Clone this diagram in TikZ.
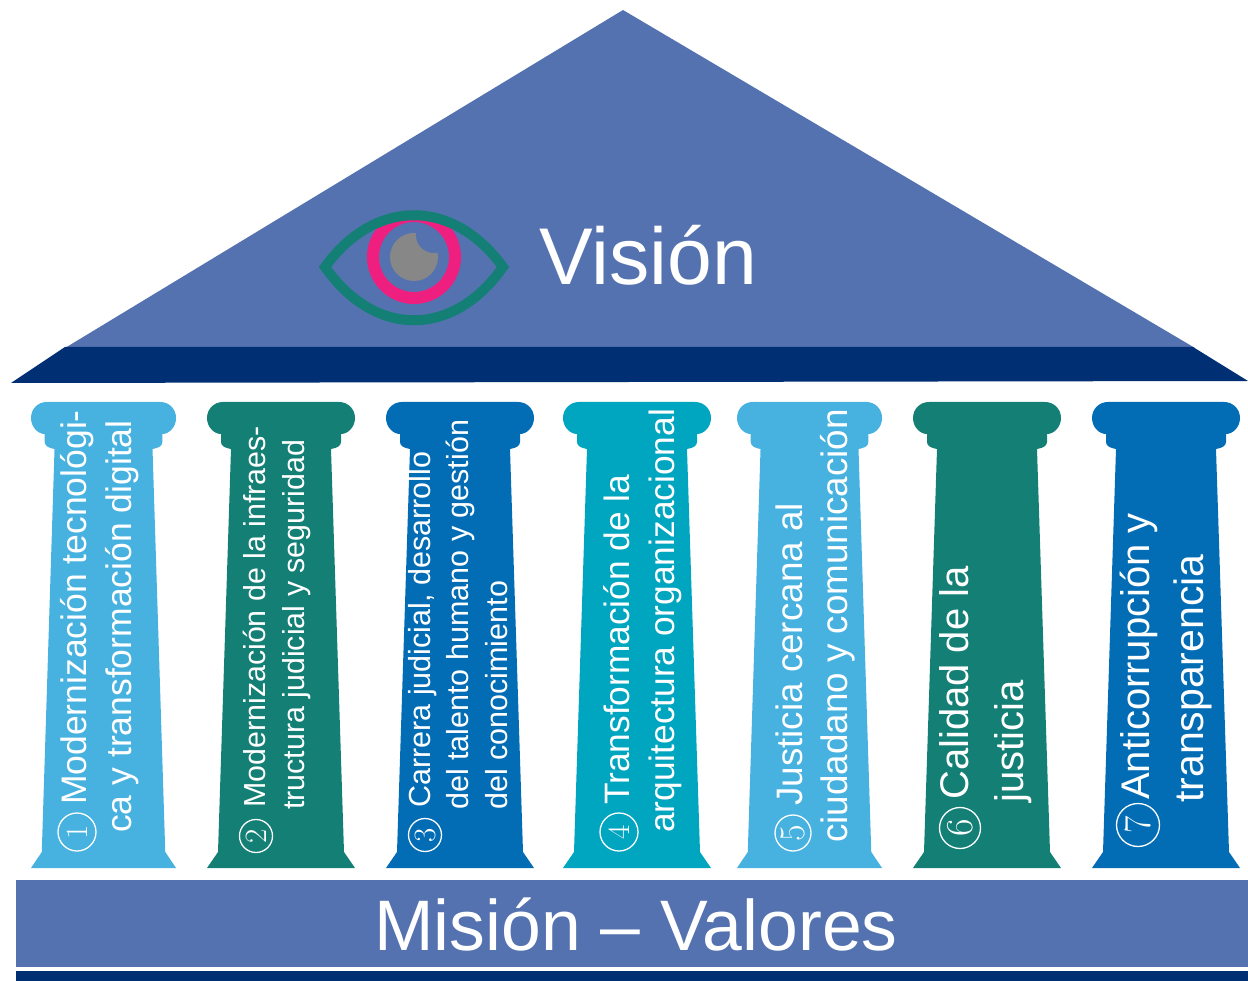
\documentclass[tikz,border=0pt]{standalone}
\usepackage{fontspec}
\setmainfont{Liberation Sans}
\definecolor{roofblue}{HTML}{5572B0}
\definecolor{darkblue}{HTML}{003073}
\definecolor{skyblue}{HTML}{47B1DF}
\definecolor{deepgreen}{HTML}{137F75}
\definecolor{midblue}{HTML}{026DB5}
\definecolor{cyanblue}{HTML}{00A5BF}
\definecolor{eyepink}{HTML}{EF1F80}
\definecolor{eyegray}{HTML}{878787}
\tikzset{
	pillar/.pic={
		\fill[pic actions] (16,0) -- (132,0) .. controls (141,0) and (148,7) .. (148,16) .. controls (148,25) and (141,32) .. (134,32) -- (134,40) .. controls (134,44) and (130,46) .. (124,47) -- (137,450) -- (148,466) -- (0,466) -- (11,450) -- (24,47) .. controls (18,46) and (14,44) .. (14,40) -- (14,32) .. controls (7,32) and (0,25) .. (0,16) .. controls (0,7) and (7,0) .. (16,0) -- cycle;
	},
	pillartext/.style={rotate=90,anchor=north west,inner sep=0pt,align=left,text=white},
	numring/.style={draw=white,line width=1.3pt,shape=circle,inner sep=0pt,text=white,rotate=90}
}
\begin{document}
\begin{tikzpicture}[x=1pt,y=-1pt]
	\useasboundingbox (0,0) rectangle (1248,981);
	% roof
	\fill[roofblue] (623,10) -- (1195,348) -- (65,348) -- cycle;
	\fill[darkblue] (65,347) -- (1193,347) -- (1248,381) -- (11,383) -- cycle;
	% eye
	\begin{scope}
		\clip (325,267) .. controls (375,198) and (453,198) .. (503,267) .. controls (453,338) and (375,338) .. (325,267) -- cycle;
		\draw[eyepink,line width=12pt] (414,257) circle (41);
	\end{scope}
	\fill[eyegray] (414,257) circle (24);
	\begin{scope}
		\clip (414,257) circle (24.5);
		\fill[roofblue] (434,235) circle (18);
	\end{scope}
	\draw[deepgreen,line width=10pt,line join=miter,miter limit=10] (325,267) .. controls (375,198) and (453,198) .. (503,267) .. controls (453,338) and (375,338) .. (325,267) -- cycle;
	\draw (648,255) node (vision) [text=white,font=\fontsize{80.5}{80}\selectfont] {Visión};
	% pillars
	\pic[fill=skyblue,xscale=.98] at (31,402) {pillar};
	\pic[fill=deepgreen] at (207,402) {pillar};
	\pic[fill=midblue] at (386,402) {pillar};
	\pic[fill=cyanblue] at (563,402) {pillar};
	\pic[fill=skyblue,xscale=.98] at (737,402) {pillar};
	\pic[fill=deepgreen] at (913,402) {pillar};
	\pic[fill=midblue] at (1092,402) {pillar};
	% pillar texts
	\draw (60,833) node (t1) [pillartext,font=\fontsize{35.5}{45}\selectfont] {\hspace*{28pt}Modernización tecnológi-\\ca y transformación digital};
	\draw (243,808) node (t2) [pillartext,font=\fontsize{30.4}{38.5}\selectfont] {Modernización de la infraes-\\\hspace*{-2pt}tructura judicial y seguridad};
	\draw (408,808) node (t3) [pillartext,font=\fontsize{30.5}{38.5}\selectfont] {Carrera judicial, desarrollo\\\hspace*{-2pt}del talento humano y gestión\\\hspace*{-2pt}del conocimiento};
	\draw (603,833) node (t4) [pillartext,font=\fontsize{35.3}{45}\selectfont] {\hspace*{28pt}Transformación de la\\arquitectura organizacional};
	\draw (776,843) node (t5) [pillartext,font=\fontsize{36.8}{45}\selectfont] {\hspace*{37pt}Justicia cercana al\\ciudadano y comunicación};
	\draw (939,800) node (t6) [pillartext,font=\fontsize{40}{55}\selectfont] {Calidad de la\\\hspace*{-3pt}justicia};
	\draw (1120,800) node (t7) [pillartext,font=\fontsize{40}{54}\selectfont] {Anticorrupción y\\\hspace*{-3pt}\fontsize{41}{54}\selectfont transparencia};
	% numbers
	\draw (77,832) node (n1) [numring,minimum size=38pt,font=\fontspec{Latin Modern Roman}\fontsize{31}{31}\selectfont] {1};
	\draw (256,836) node (n2) [numring,minimum size=33pt,font=\fontspec{Latin Modern Roman}\fontsize{31}{31}\selectfont] {2};
	\draw (425,835) node (n3) [numring,minimum size=33pt,font=\fontspec{Latin Modern Roman}\fontsize{31}{31}\selectfont] {3};
	\draw (619,832) node (n4) [numring,minimum size=38pt,font=\fontspec{Latin Modern Roman}\fontsize{31}{31}\selectfont] {4};
	\draw (793,833) node (n5) [numring,minimum size=36pt,font=\fontspec{Latin Modern Roman}\fontsize{36}{36}\selectfont] {5};
	\draw (960,828) node (n6) [numring,minimum size=41pt,font=\fontspec{Latin Modern Roman}\fontsize{38}{38}\selectfont] {6};
	\draw (1138,825) node (n7) [numring,minimum size=43pt,font=\fontspec{Latin Modern Roman}\fontsize{38}{38}\selectfont] {7};
	% base
	\fill[roofblue] (16,880) rectangle (1248,967);
	\fill[darkblue] (16,971) rectangle (1248,981);
	\draw (636,925) node (mision) [text=white,font=\fontsize{71.5}{72}\selectfont] {Misión – Valores};
\end{tikzpicture}
\end{document}
